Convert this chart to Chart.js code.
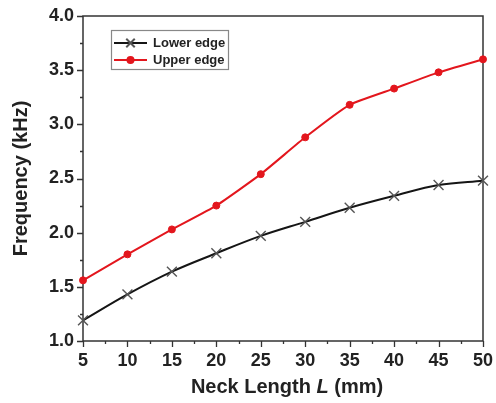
<!DOCTYPE html>
<html>
<head>
<meta charset="utf-8">
<script src="https://cdn.jsdelivr.net/npm/chart.js@4"></script>
<style>
    html, body { margin: 0; padding: 0; background: #fff; }
    #wrap { width: 496px; height: 403px; }
</style>
</head>
<body>
<div id="wrap"><canvas id="myChart" width="496" height="403"></canvas></div>
<script>
// данные
const neckLength = [5, 10, 15, 20, 25, 30, 35, 40, 45, 50];
const lowerEdge = [1.19, 1.43, 1.64, 1.81, 1.97, 2.10, 2.23, 2.34, 2.44, 2.48];
const upperEdge = [1.56, 1.80, 2.03, 2.25, 2.54, 2.88, 3.18, 3.33, 3.48, 3.60];
const seriesNames = ['Lower edge', 'Upper edge'];
const yTicks = [1.0, 1.5, 2.0, 2.5, 3.0, 3.5, 4.0];
const xTicks = [5, 10, 15, 20, 25, 30, 35, 40, 45, 50];

const FONT = "'Liberation Sans', Arial, sans-serif";

// рамка, мелкие деления, подписи осей и легенда
const decorPlugin = {
    id: 'decor',
    beforeDatasetsDraw(chart) {
        const ctx = chart.ctx;
        const a = chart.chartArea;
        const xs = chart.scales.x;
        const ys = chart.scales.y;
        ctx.save();
        ctx.strokeStyle = '#333';
        ctx.lineWidth = 1.5;
        ctx.strokeRect(a.left, a.top, a.right - a.left, a.bottom - a.top);

        ctx.lineWidth = 1.3;
        ctx.beginPath();
        for (let v = 1.0; v <= 4.0001; v += 0.25) {
            const py = Math.round(ys.getPixelForValue(v)) + 0.5;
            const len = (Math.abs(v * 2 - Math.round(v * 2)) < 0.01) ? 6 : 3;
            ctx.moveTo(a.left - len, py);
            ctx.lineTo(a.left, py);
        }
        for (let v = 5; v <= 50.001; v += 2.5) {
            const px = Math.round(xs.getPixelForValue(v)) + 0.5;
            const len = (v % 5 === 0) ? 6 : 3;
            ctx.moveTo(px, a.bottom);
            ctx.lineTo(px, a.bottom + len);
        }
        ctx.stroke();

        // подпись оси X с курсивной L
        ctx.fillStyle = '#222';
        ctx.textBaseline = 'middle';
        const bold = 'bold 20px ' + FONT;
        const italic = 'italic bold 20px ' + FONT;
        const parts = [['Neck Length ', bold], ['L', italic], [' (mm)', bold]];
        let total = 0;
        parts.forEach(p => { ctx.font = p[1]; total += ctx.measureText(p[0]).width; });
        let x = (a.left + a.right) / 2 - total / 2 + 4;
        const y = 387;
        ctx.textAlign = 'left';
        parts.forEach(p => {
            ctx.font = p[1];
            ctx.fillText(p[0], x, y);
            x += ctx.measureText(p[0]).width;
        });

        // подпись оси Y
        ctx.save();
        ctx.translate(21, (a.top + a.bottom) / 2);
        ctx.rotate(-Math.PI / 2);
        ctx.textAlign = 'center';
        ctx.font = bold;
        ctx.fillText('Frequency (kHz)', 0, 0);
        ctx.restore();
        ctx.restore();
    },
    afterDatasetsDraw(chart) {
        const ctx = chart.ctx;
        ctx.save();
        const bx = 111, by = 30, bw = 117, bh = 39;
        ctx.fillStyle = '#fff';
        ctx.fillRect(bx, by, bw, bh);
        ctx.strokeStyle = '#888';
        ctx.lineWidth = 1.2;
        ctx.strokeRect(bx + 0.5, by + 0.5, bw, bh);

        const rows = [43, 60];
        const markerSize = [6, 3];
        chart.data.datasets.forEach((ds, i) => {
            const ry = rows[i];
            ctx.strokeStyle = ds.borderColor;
            ctx.lineWidth = 2;
            ctx.beginPath();
            ctx.moveTo(114, ry);
            ctx.lineTo(147, ry);
            ctx.stroke();
            ctx.fillStyle = ds.pointBackgroundColor;
            ctx.strokeStyle = ds.pointBorderColor;
            Chart.helpers.drawPoint(ctx, {
                pointStyle: ds.pointStyle,
                radius: markerSize[i],
                borderWidth: ds.pointBorderWidth
            }, 130.5, ry);
            ctx.fillStyle = '#222';
            ctx.font = 'bold 13px ' + FONT;
            ctx.textAlign = 'left';
            ctx.textBaseline = 'middle';
            ctx.fillText(ds.label, 153, ry);
        });
        ctx.restore();
    }
};

const ctx = document.getElementById('myChart').getContext('2d');

const myChart = new Chart(ctx, {
    type: 'line',
    data: {
        datasets: [{
            label: seriesNames[0],
            data: neckLength.map((v, i) => ({ x: v, y: lowerEdge[i] })),
            borderColor: '#151515',
            borderWidth: 2,
            tension: 0.35,
            pointStyle: 'crossRot',
            pointRadius: 7,
            pointBorderWidth: 1.4,
            pointBorderColor: '#555',
            pointBackgroundColor: '#555',
            clip: false
        }, {
            label: seriesNames[1],
            data: neckLength.map((v, i) => ({ x: v, y: upperEdge[i] })),
            borderColor: '#e3161d',
            borderWidth: 2,
            tension: 0.15,
            pointStyle: 'circle',
            pointRadius: 3.5,
            pointBorderWidth: 1,
            pointBorderColor: '#e3161d',
            pointBackgroundColor: '#e3161d',
            clip: false
        }]
    },
    options: {
        responsive: false,
        animation: false,
        layout: { padding: { top: 16, right: 13, left: 0, bottom: 0 } },
        plugins: {
            legend: { display: false },
            tooltip: { enabled: false }
        },
        scales: {
            x: {
                type: 'linear',
                min: 5,
                max: 50,
                afterBuildTicks: s => { s.ticks = xTicks.map(v => ({ value: v })); },
                afterFit: s => {
                    s.height = 62;
                    s.paddingLeft = 0;
                    s.paddingRight = 0;
                },
                grid: { display: false, drawTicks: false },
                border: { display: false },
                ticks: {
                    padding: 9,
                    color: '#222',
                    font: { family: FONT, size: 18, weight: 'bold' }
                }
            },
            y: {
                min: 1.0,
                max: 4.0,
                afterBuildTicks: s => { s.ticks = yTicks.map(v => ({ value: v })); },
                afterFit: s => {
                    s.width = 83;
                    s.paddingTop = 0;
                    s.paddingBottom = 0;
                },
                grid: { display: false, drawTicks: false },
                border: { display: false },
                ticks: {
                    padding: 9,
                    color: '#222',
                    font: { family: FONT, size: 18, weight: 'bold' },
                    callback: v => v.toFixed(1)
                }
            }
        }
    },
    plugins: [decorPlugin]
});
</script>
</body>
</html>
